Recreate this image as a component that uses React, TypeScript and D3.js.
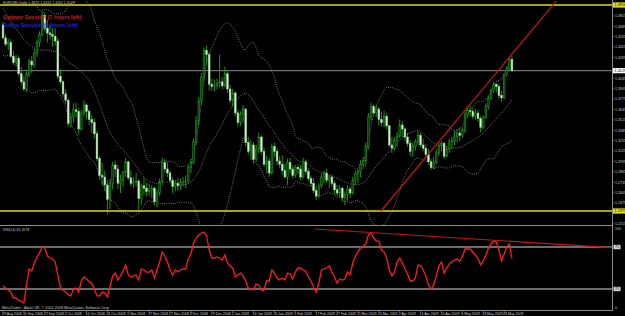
import React, { useEffect } from 'react';
import * as d3 from 'd3';

// ---------- DATA ----------
const headerText = 'EURUSD,Daily  1.4270 1.4310 1.4110 1.4129';
const sessionTexts = ['Sydney Session (7 hours left)', 'Tokyo Session (9 hours left)'];
const rsiTitle = 'RSI(14) 61.3178';
const copyright = 'MetaTrader - Alpari UK, \u00a9 2001-2008 MetaQuotes Software Corp.';

// [open, high, low, close], one per daily bar, 29 Aug 2008 .. 2 Jun 2009
const ohlc: [number, number, number, number][] = [
  [1.4700, 1.4740, 1.4520, 1.4540], [1.4540, 1.4590, 1.4430, 1.4460], [1.4460, 1.4530, 1.4390, 1.4480], [1.4480, 1.4520, 1.4290, 1.4310],
  [1.4310, 1.4380, 1.4200, 1.4230], [1.4230, 1.4330, 1.4180, 1.4280], [1.4280, 1.4310, 1.4060, 1.4090], [1.4090, 1.4180, 1.3950, 1.3990],
  [1.3990, 1.4060, 1.3870, 1.3900], [1.3900, 1.4120, 1.3860, 1.4080], [1.4080, 1.4280, 1.4050, 1.4250], [1.4250, 1.4310, 1.4100, 1.4200],
  [1.4200, 1.4400, 1.4170, 1.4350], [1.4350, 1.4520, 1.4300, 1.4480], [1.4480, 1.4620, 1.4420, 1.4580], [1.4580, 1.4880, 1.4560, 1.4820],
  [1.4820, 1.4860, 1.4620, 1.4660], [1.4660, 1.4760, 1.4480, 1.4600], [1.4600, 1.4700, 1.4520, 1.4580], [1.4580, 1.4660, 1.4430, 1.4560],
  [1.4560, 1.4660, 1.4440, 1.4500], [1.4500, 1.4540, 1.4020, 1.4060], [1.4060, 1.4140, 1.3960, 1.3990], [1.3990, 1.4010, 1.3800, 1.3840],
  [1.3840, 1.3900, 1.3720, 1.3760], [1.3760, 1.3780, 1.3430, 1.3470], [1.3470, 1.3600, 1.3420, 1.3550], [1.3550, 1.3720, 1.3480, 1.3640],
  [1.3640, 1.3730, 1.3550, 1.3620], [1.3620, 1.3660, 1.3330, 1.3400], [1.3400, 1.3640, 1.3380, 1.3600], [1.3600, 1.3760, 1.3560, 1.3700],
  [1.3700, 1.3720, 1.3520, 1.3620], [1.3620, 1.3650, 1.3450, 1.3520], [1.3520, 1.3580, 1.3350, 1.3480], [1.3480, 1.3530, 1.3280, 1.3340],
  [1.3340, 1.3380, 1.3000, 1.3030], [1.3030, 1.3060, 1.2770, 1.2820], [1.2820, 1.2980, 1.2700, 1.2800], [1.2800, 1.2880, 1.2620, 1.2700],
  [1.2700, 1.2760, 1.2330, 1.2520], [1.2520, 1.2780, 1.2400, 1.2720], [1.2720, 1.2990, 1.2650, 1.2950], [1.2950, 1.3000, 1.2800, 1.2900],
  [1.2900, 1.2950, 1.2650, 1.2720], [1.2720, 1.2830, 1.2600, 1.2760], [1.2760, 1.2880, 1.2680, 1.2860], [1.2860, 1.3040, 1.2800, 1.2990],
  [1.2990, 1.3000, 1.2760, 1.2790], [1.2790, 1.2880, 1.2680, 1.2720], [1.2720, 1.2800, 1.2660, 1.2740], [1.2740, 1.2850, 1.2680, 1.2750],
  [1.2750, 1.2770, 1.2380, 1.2530], [1.2530, 1.2720, 1.2450, 1.2690], [1.2690, 1.2790, 1.2580, 1.2660], [1.2660, 1.2730, 1.2560, 1.2620],
  [1.2620, 1.2720, 1.2560, 1.2630], [1.2630, 1.2700, 1.2540, 1.2660], [1.2660, 1.2680, 1.2450, 1.2490], [1.2490, 1.2640, 1.2420, 1.2600],
  [1.2600, 1.2780, 1.2560, 1.2740], [1.2740, 1.3040, 1.2700, 1.2980], [1.2980, 1.3030, 1.2860, 1.2900], [1.2900, 1.2990, 1.2800, 1.2850],
  [1.2850, 1.2880, 1.2720, 1.2760], [1.2760, 1.2800, 1.2600, 1.2680], [1.2680, 1.2760, 1.2620, 1.2720], [1.2720, 1.2780, 1.2630, 1.2690],
  [1.2690, 1.2780, 1.2640, 1.2730], [1.2730, 1.2800, 1.2680, 1.2740], [1.2740, 1.2820, 1.2660, 1.2750], [1.2750, 1.2950, 1.2720, 1.2920],
  [1.2920, 1.3020, 1.2850, 1.2980], [1.2980, 1.3280, 1.2960, 1.3240], [1.3240, 1.3560, 1.3200, 1.3500], [1.3500, 1.3800, 1.3450, 1.3750],
  [1.3750, 1.4100, 1.3700, 1.4050], [1.4050, 1.4420, 1.4000, 1.4380], [1.4380, 1.4440, 1.4200, 1.4330], [1.4330, 1.4360, 1.3880, 1.3960],
  [1.3960, 1.4030, 1.3880, 1.3930], [1.3930, 1.4020, 1.3870, 1.3940], [1.3940, 1.4030, 1.3900, 1.3970], [1.3970, 1.4330, 1.3920, 1.3990],
  [1.3990, 1.4050, 1.3900, 1.3940], [1.3940, 1.4180, 1.3920, 1.4090], [1.4090, 1.4120, 1.3850, 1.3900], [1.3900, 1.3950, 1.3720, 1.3760],
  [1.3760, 1.3900, 1.3680, 1.3850], [1.3850, 1.3870, 1.3560, 1.3600], [1.3600, 1.3640, 1.3430, 1.3480], [1.3480, 1.3620, 1.3440, 1.3580],
  [1.3580, 1.3700, 1.3480, 1.3650], [1.3650, 1.3660, 1.3180, 1.3230], [1.3230, 1.3300, 1.3080, 1.3120], [1.3120, 1.3260, 1.3010, 1.3200],
  [1.3200, 1.3240, 1.2970, 1.3020], [1.3020, 1.3200, 1.2990, 1.3150], [1.3150, 1.3350, 1.3100, 1.3300], [1.3300, 1.3320, 1.3080, 1.3120],
  [1.3120, 1.3170, 1.2930, 1.2960], [1.2960, 1.3060, 1.2850, 1.3000], [1.3000, 1.3040, 1.2800, 1.2850], [1.2850, 1.3220, 1.2830, 1.3180],
  [1.3180, 1.3230, 1.3050, 1.3120], [1.3120, 1.3160, 1.2950, 1.3000], [1.3000, 1.3060, 1.2910, 1.2960], [1.2960, 1.3070, 1.2830, 1.2880],
  [1.2880, 1.2960, 1.2780, 1.2800], [1.2800, 1.3030, 1.2700, 1.2980], [1.2980, 1.3040, 1.2850, 1.2900], [1.2900, 1.2950, 1.2780, 1.2820],
  [1.2820, 1.2950, 1.2790, 1.2920], [1.2920, 1.2960, 1.2840, 1.2900], [1.2900, 1.2950, 1.2760, 1.2800], [1.2800, 1.3040, 1.2780, 1.2990],
  [1.2990, 1.3020, 1.2830, 1.2870], [1.2870, 1.2910, 1.2750, 1.2780], [1.2780, 1.2820, 1.2680, 1.2720], [1.2720, 1.2790, 1.2600, 1.2630],
  [1.2630, 1.2680, 1.2510, 1.2560], [1.2560, 1.2720, 1.2540, 1.2690], [1.2690, 1.2850, 1.2660, 1.2800], [1.2800, 1.2880, 1.2720, 1.2850],
  [1.2850, 1.2900, 1.2730, 1.2760], [1.2760, 1.2830, 1.2660, 1.2800], [1.2800, 1.2830, 1.2680, 1.2720], [1.2720, 1.2750, 1.2580, 1.2640],
  [1.2640, 1.2700, 1.2560, 1.2600], [1.2600, 1.2700, 1.2540, 1.2660], [1.2660, 1.2680, 1.2490, 1.2540], [1.2540, 1.2620, 1.2450, 1.2580],
  [1.2580, 1.2700, 1.2500, 1.2650], [1.2650, 1.2680, 1.2540, 1.2600], [1.2600, 1.2800, 1.2580, 1.2760], [1.2760, 1.2880, 1.2700, 1.2840],
  [1.2840, 1.2900, 1.2720, 1.2870], [1.2870, 1.3010, 1.2800, 1.2960], [1.2960, 1.3050, 1.2900, 1.3000], [1.3000, 1.3230, 1.2930, 1.3180],
  [1.3180, 1.3600, 1.3150, 1.3550], [1.3550, 1.3730, 1.3500, 1.3680], [1.3680, 1.3710, 1.3560, 1.3600], [1.3600, 1.3700, 1.3550, 1.3650],
  [1.3650, 1.3680, 1.3450, 1.3520], [1.3520, 1.3620, 1.3430, 1.3480], [1.3480, 1.3630, 1.3420, 1.3560], [1.3560, 1.3600, 1.3400, 1.3440],
  [1.3440, 1.3450, 1.3170, 1.3200], [1.3200, 1.3300, 1.3100, 1.3160], [1.3160, 1.3300, 1.3130, 1.3260], [1.3260, 1.3360, 1.3180, 1.3310],
  [1.3310, 1.3520, 1.3290, 1.3450], [1.3450, 1.3500, 1.3300, 1.3400], [1.3400, 1.3420, 1.3250, 1.3300], [1.3300, 1.3350, 1.3180, 1.3220],
  [1.3220, 1.3260, 1.3060, 1.3120], [1.3120, 1.3230, 1.3050, 1.3180], [1.3180, 1.3270, 1.3130, 1.3240], [1.3240, 1.3370, 1.3200, 1.3320],
  [1.3320, 1.3350, 1.3170, 1.3200], [1.3200, 1.3280, 1.3120, 1.3160], [1.3160, 1.3210, 1.3050, 1.3080], [1.3080, 1.3150, 1.2960, 1.2990],
  [1.2990, 1.3030, 1.2890, 1.2920], [1.2920, 1.3050, 1.2900, 1.2980], [1.2980, 1.3150, 1.2960, 1.3100], [1.3100, 1.3240, 1.3060, 1.3200],
  [1.3200, 1.3250, 1.3120, 1.3220], [1.3220, 1.3240, 1.3020, 1.3060], [1.3060, 1.3180, 1.3040, 1.3150], [1.3150, 1.3280, 1.3100, 1.3240],
  [1.3240, 1.3300, 1.3150, 1.3250], [1.3250, 1.3380, 1.3200, 1.3300], [1.3300, 1.3400, 1.3230, 1.3350], [1.3350, 1.3420, 1.3250, 1.3320],
  [1.3320, 1.3420, 1.3290, 1.3380], [1.3380, 1.3620, 1.3350, 1.3580], [1.3580, 1.3680, 1.3540, 1.3630], [1.3630, 1.3690, 1.3560, 1.3620],
  [1.3620, 1.3660, 1.3520, 1.3560], [1.3560, 1.3650, 1.3510, 1.3600], [1.3600, 1.3640, 1.3490, 1.3530], [1.3530, 1.3560, 1.3360, 1.3420],
  [1.3420, 1.3570, 1.3400, 1.3540], [1.3540, 1.3720, 1.3520, 1.3680], [1.3680, 1.3820, 1.3650, 1.3780], [1.3780, 1.3900, 1.3760, 1.3880],
  [1.3880, 1.3990, 1.3850, 1.3960], [1.3960, 1.3970, 1.3860, 1.3930], [1.3930, 1.3960, 1.3780, 1.3820], [1.3820, 1.3880, 1.3740, 1.3790],
  [1.3790, 1.4100, 1.3770, 1.4080], [1.4080, 1.4180, 1.4050, 1.4150], [1.4150, 1.4300, 1.4120, 1.4270], [1.4270, 1.4310, 1.4110, 1.4129],
];

// closes of the 20 August 2008 bars before the first visible bar (band warm-up)
const warmupCloses = [
  1.5590, 1.5520, 1.5470, 1.5430, 1.5360, 1.5010, 1.4930, 1.4900, 1.4890, 1.4810,
  1.4680, 1.4730, 1.4760, 1.4800, 1.4870, 1.4760, 1.4650, 1.4600, 1.4700, 1.4730,
];

const rsiValues = [
  28.6, 26.2, 23.8, 21.4, 14.3, 14.8, 11.9, 10.1, 8.3, 29.8,
  48.8, 46.4, 56.0, 63.1, 67.9, 75.0, 73.8, 64.3, 61.9, 60.7,
  57.1, 41.7, 26.2, 23.8, 21.4, 17.9, 16.7, 25.0, 26.2, 21.4,
  34.5, 39.3, 36.9, 33.3, 32.1, 25.0, 16.7, 16.7, 21.4, 20.2,
  15.5, 27.4, 40.5, 44.0, 35.7, 40.5, 46.4, 53.6, 41.7, 39.3,
  40.5, 41.7, 35.7, 48.8, 47.6, 45.2, 45.2, 47.6, 38.1, 47.6,
  57.1, 69.0, 64.3, 57.1, 47.6, 41.7, 47.6, 45.2, 47.6, 48.8,
  48.8, 60.7, 66.7, 79.8, 85.7, 89.3, 91.7, 92.9, 88.1, 71.4,
  61.9, 61.9, 63.1, 61.9, 59.5, 65.5, 56.0, 52.4, 50.0, 39.3,
  41.7, 44.0, 40.5, 34.5, 26.2, 25.0, 23.8, 31.0, 29.8, 23.8,
  23.8, 34.5, 34.5, 47.6, 44.0, 38.1, 35.7, 38.1, 35.7, 44.0,
  42.9, 36.9, 45.2, 50.0, 50.0, 47.6, 46.4, 39.3, 34.5, 27.4,
  21.4, 32.1, 47.6, 48.8, 50.0, 52.4, 45.2, 39.3, 32.1, 36.9,
  35.7, 36.9, 45.2, 41.7, 56.0, 64.3, 69.0, 73.8, 76.2, 78.6,
  89.3, 91.7, 85.7, 82.1, 82.1, 71.4, 69.0, 61.9, 47.6, 40.5,
  45.2, 57.1, 61.9, 56.0, 48.8, 42.9, 34.5, 34.5, 38.1, 53.6,
  52.4, 47.6, 40.5, 29.8, 25.0, 29.8, 40.5, 52.4, 57.1, 44.0,
  50.0, 54.8, 57.1, 59.5, 60.7, 58.3, 63.1, 72.6, 72.6, 72.6,
  69.0, 65.5, 60.7, 53.6, 58.3, 65.5, 73.8, 78.6, 82.1, 81.0,
  71.4, 58.3, 66.7, 75.0, 78.6, 61.3,
];

// time labels, one every 8 bars starting at bar 0
const timeLabels = [
  '29 Aug 2008', '10 Sep 2008', '22 Sep 2008', '2 Oct 2008', '14 Oct 2008', '24 Oct 2008', '5 Nov 2008',
  '17 Nov 2008', '27 Nov 2008', '9 Dec 2008', '19 Dec 2008', '2 Jan 2009', '14 Jan 2009', '26 Jan 2009',
  '5 Feb 2009', '17 Feb 2009', '27 Feb 2009', '11 Mar 2009', '23 Mar 2009', '2 Apr 2009', '14 Apr 2009',
  '24 Apr 2009', '6 May 2009', '18 May 2009', '28 May 2009',
];
const timeLabelStep = 8;

const priceTicks = [
  1.4945, 1.4815, 1.4685, 1.4555, 1.4425, 1.4295, 1.4165, 1.4035, 1.3905, 1.3775, 1.3645,
  1.3515, 1.3385, 1.3255, 1.3125, 1.2995, 1.2865, 1.2735, 1.2605, 1.2475, 1.2345, 1.2215,
];
const horizontalLevels = [1.4950, 1.2375];
const bidPrice = 1.4129;
const trendBars = [144.8, 213];
const trendPrices = [1.2375, 1.5040];
const rsiLevels = [75, 25];
const rsiAxisLabels = [100, 75, 25, 0];
const rsiTrendBars = [119.5, 233.3];
const rsiTrendValues = [96.4, 74.2];

// ---------- CHART ----------
const W = 625;
const H = 316;
const FONT = '"Liberation Sans", Arial, sans-serif';

export default function App() {
  useEffect(() => {
    document.body.style.margin = '0';
    document.body.style.background = '#000';
  }, []);

  const x = d3.scaleLinear().domain([0, ohlc.length - 1]).range([3, 511.95]);
  const y = d3.scaleLinear().domain([1.4, 1.5]).range([81, 1]);
  const ry = d3.scaleLinear().domain([0, 100]).range([310, 226]);

  const axisX = 612.5;
  const mainBottom = 225.5;
  const rsiBottom = 310.5;

  const closes = ohlc.map((d) => d[3]);
  const all = warmupCloses.concat(closes);
  const n0 = warmupCloses.length;
  const bands = closes.map((_, i) => {
    const win = all.slice(i + n0 - 19, i + n0 + 1);
    const m = d3.mean(win) as number;
    const sd = Math.sqrt(d3.mean(win.map((v) => (v - m) * (v - m))) as number);
    return { i, mid: m, up: m + 2 * sd, lo: m - 2 * sd };
  });
  const bandLine = (k: 'mid' | 'up' | 'lo') =>
    d3.line<{ i: number; mid: number; up: number; lo: number }>()
      .x((d) => x(d.i))
      .y((d) => y(d[k]))(bands) as string;

  const rsiPath = d3.line<number>().x((_, i) => x(i)).y((v) => ry(v)).curve(d3.curveLinear)(rsiValues) as string;

  const bodyW = 1.7;
  const green = '#1fa01f';

  const boxes = [
    { p: horizontalLevels[0], fill: '#e0e020' },
    { p: horizontalLevels[1], fill: '#e0e020' },
    { p: bidPrice, fill: '#ffffff' },
  ];
  const boxYs = boxes.map((b) => y(b.p));

  return (
    <svg width={W} height={H} style={{ display: 'block', background: '#000' }} fontFamily={FONT}>
      <defs>
        <clipPath id="mainClip">
          <rect x={0} y={1} width={axisX} height={mainBottom - 1} />
        </clipPath>
        <clipPath id="rsiClip">
          <rect x={0} y={mainBottom + 0.5} width={axisX} height={rsiBottom - mainBottom - 1} />
        </clipPath>
      </defs>
      <rect x={0} y={0} width={W} height={H} fill="#000" />

      {/* main panel */}
      <g clipPath="url(#mainClip)">
        {/* bid line */}
        <line x1={0} x2={axisX} y1={y(bidPrice)} y2={y(bidPrice)} stroke="#8c8c8c" strokeWidth={1} />
        {/* bands */}
        {(['up', 'mid', 'lo'] as const).map((k) => (
          <path key={k} d={bandLine(k)} fill="none" stroke="#b4b4b4" strokeWidth={0.7} strokeDasharray="0.9 1.3" />
        ))}
        {/* candles */}
        {ohlc.map((d, i) => {
          const [o, h, l, c] = d;
          const cx = x(i);
          const bull = c >= o;
          const top = y(Math.max(o, c));
          const bot = y(Math.min(o, c));
          return (
            <g key={i}>
              <line x1={cx} x2={cx} y1={y(h)} y2={y(l)} stroke={green} strokeWidth={0.9} />
              <rect
                x={cx - bodyW / 2}
                y={top}
                width={bodyW}
                height={Math.max(0.6, bot - top)}
                fill={bull ? '#0b3a0b' : '#d6f2d0'}
                stroke={bull ? green : '#9fd89a'}
                strokeWidth={0.5}
              />
            </g>
          );
        })}
        {/* horizontal levels */}
        {horizontalLevels.map((p, k) => (
          <line key={k} x1={0} x2={axisX} y1={y(p)} y2={y(p)} stroke="#dcdc1e" strokeWidth={1.6} />
        ))}
        {/* trend line */}
        <line
          x1={x(trendBars[0])}
          y1={y(trendPrices[0])}
          x2={x(trendBars[1])}
          y2={y(trendPrices[1])}
          stroke="#c41616"
          strokeWidth={1.2}
        />
      </g>

      {/* header & session texts */}
      <text x={3} y={4.3} fontSize={3.6} fill="#c8c8c8">{headerText}</text>
      <text x={3} y={19} fontSize={5.6} fontWeight="bold" fill="#c82020">{sessionTexts[0]}</text>
      <text x={3} y={27} fontSize={5.6} fontWeight="bold" fill="#2424d2">{sessionTexts[1]}</text>

      {/* RSI panel */}
      <g clipPath="url(#rsiClip)">
        {rsiLevels.map((v) => (
          <line key={v} x1={0} x2={axisX} y1={ry(v)} y2={ry(v)} stroke="#d8d8d8" strokeWidth={1} />
        ))}
        <path d={rsiPath} fill="none" stroke="#ff1c1c" strokeWidth={1.3} />
        <line
          x1={x(rsiTrendBars[0])}
          y1={ry(rsiTrendValues[0])}
          x2={x(rsiTrendBars[1])}
          y2={ry(rsiTrendValues[1])}
          stroke="#c41616"
          strokeWidth={1.1}
        />
      </g>
      <text x={3} y={230.5} fontSize={3.6} fill="#c8c8c8">{rsiTitle}</text>
      <text x={2} y={308.6} fontSize={3.7} fill="#c8c8c8">{copyright}</text>

      {/* frame */}
      <line x1={0} x2={axisX} y1={mainBottom} y2={mainBottom} stroke="#8c8c8c" strokeWidth={1} />
      <line x1={0} x2={axisX} y1={rsiBottom} y2={rsiBottom} stroke="#8c8c8c" strokeWidth={1} />
      <line x1={axisX} x2={axisX} y1={0} y2={rsiBottom} stroke="#8c8c8c" strokeWidth={1} />

      {/* price axis */}
      {priceTicks.map((p) => {
        const py = y(p);
        if (boxYs.some((b) => Math.abs(b - py) < 4)) return null;
        return (
          <g key={p}>
            <line x1={axisX} x2={axisX + 2} y1={py} y2={py} stroke="#8c8c8c" strokeWidth={0.6} />
            <text x={615} y={py + 1.3} fontSize={3.6} fill="#c8c8c8">{p.toFixed(4)}</text>
          </g>
        );
      })}
      {boxes.map((b, k) => (
        <g key={k}>
          <rect x={axisX + 0.5} y={y(b.p) - 2.6} width={W - axisX} height={5.2} fill={b.fill} />
          <text x={614.5} y={y(b.p) + 1.4} fontSize={3.8} fill="#000">{b.p.toFixed(4)}</text>
        </g>
      ))}

      {/* RSI axis */}
      {rsiAxisLabels.map((v) => {
        const vy = Math.min(Math.max(ry(v), 228.5), 307.5);
        return (
          <g key={v}>
            {(v === 75 || v === 25) && (
              <rect x={axisX + 1} y={vy - 2.2} width={7} height={4.4} fill="#d8d8d8" />
            )}
            <text x={615} y={vy + 1.3} fontSize={3.6} fill={v === 75 || v === 25 ? '#000' : '#c8c8c8'}>{v}</text>
          </g>
        );
      })}

      {/* time axis */}
      {timeLabels.map((t, k) => {
        const tx = x(k * timeLabelStep);
        return (
          <g key={t}>
            <line x1={tx} x2={tx} y1={rsiBottom} y2={rsiBottom + 2} stroke="#8c8c8c" strokeWidth={0.6} />
            <text x={tx - 1} y={314.6} fontSize={3.5} fill="#c8c8c8">{t}</text>
          </g>
        );
      })}
    </svg>
  );
}
